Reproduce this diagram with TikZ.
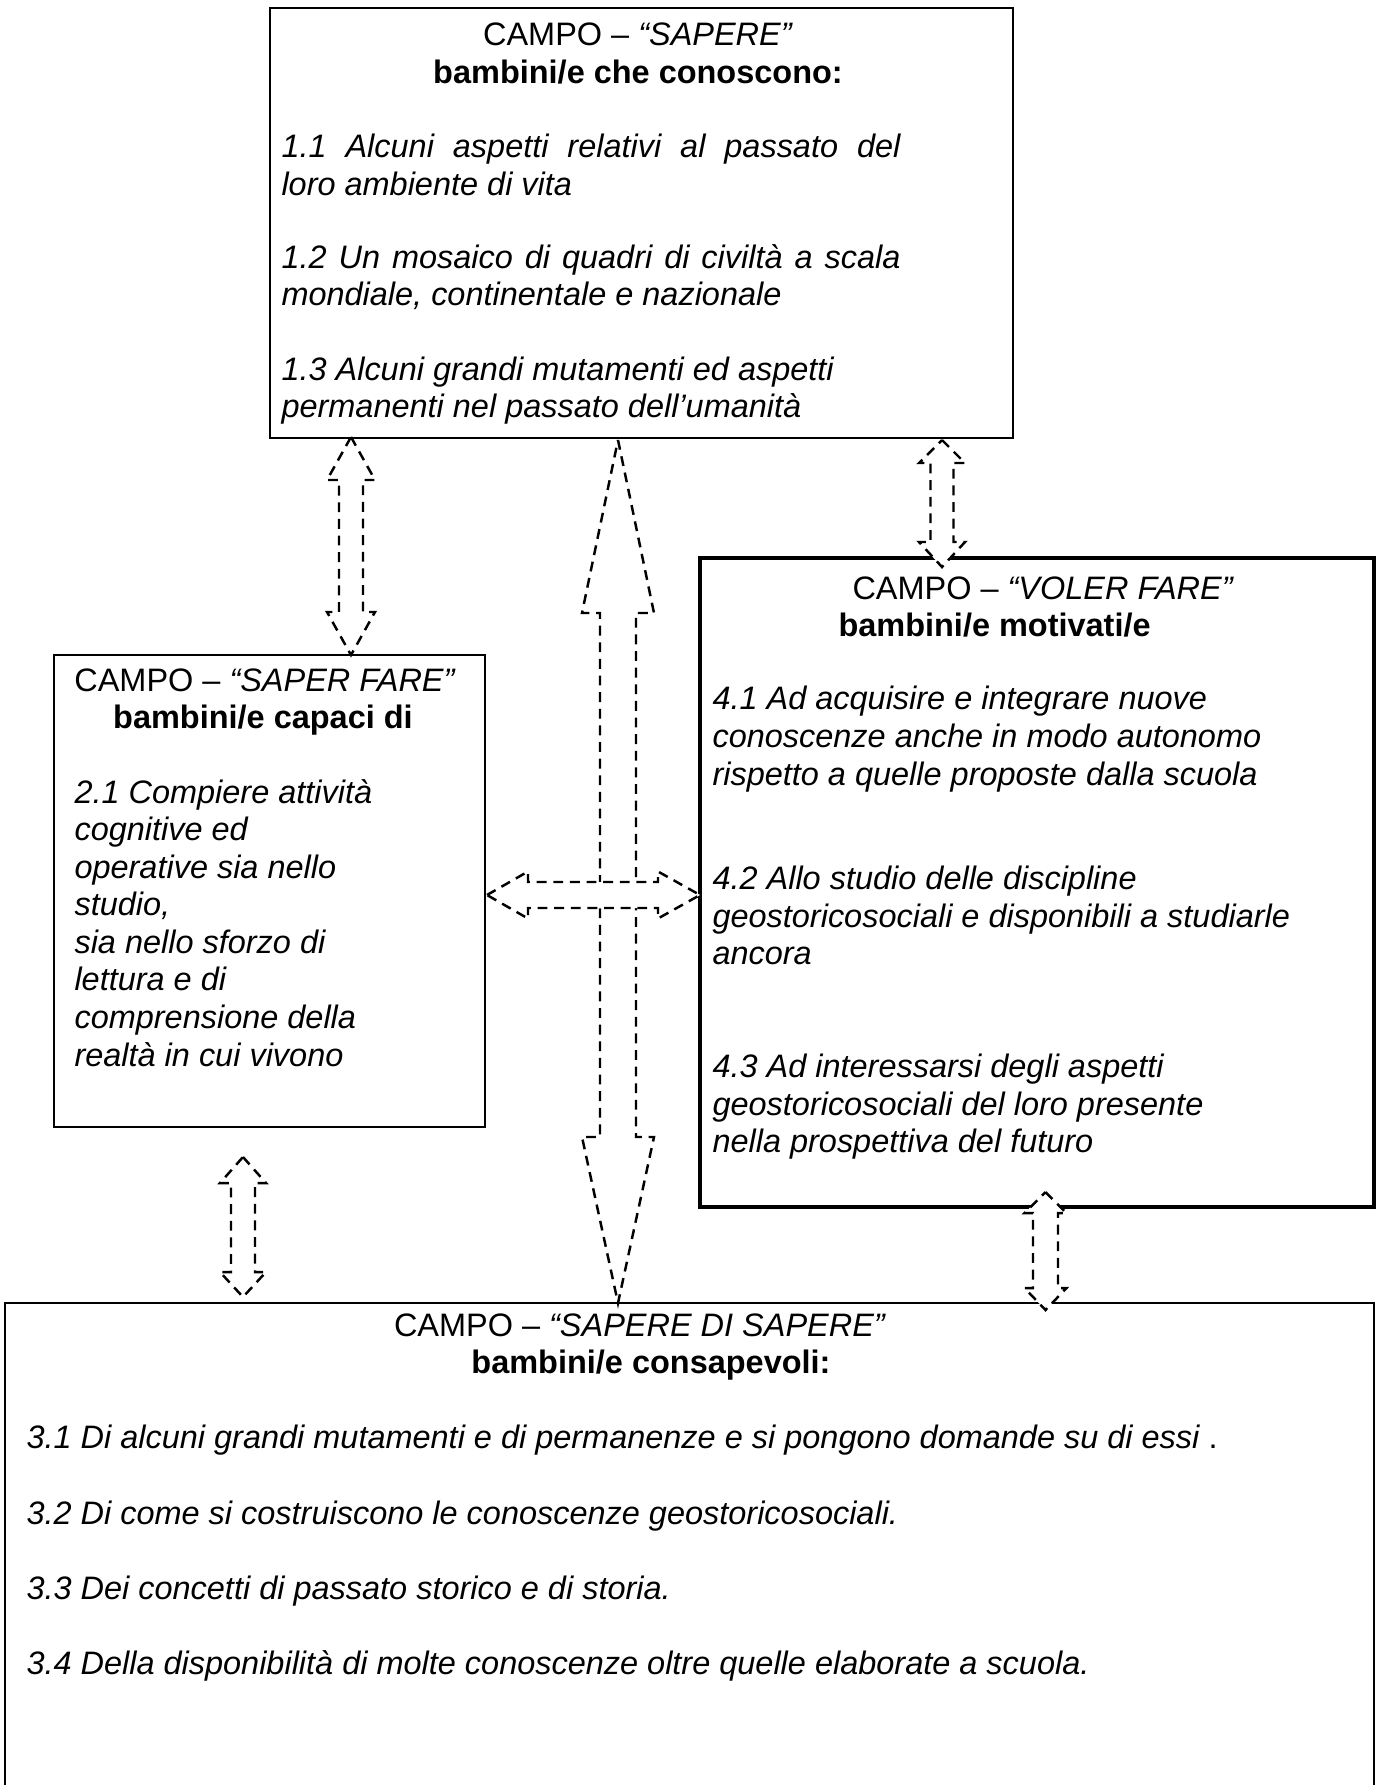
\documentclass[tikz,border=0pt]{standalone}
\usepackage{fontspec}
\setmainfont{Liberation Sans}
\usetikzlibrary{fit}
\newcommand\fs{\fontsize{12.5}{14.4}\selectfont}
\newcommand\dblvarrow[7]{\draw[darr] (#1,#2) -- ({#1+#5},{#2+#6}) -- ({#1+#4},{#2+#6}) -- ({#1+#4},{#3-#7}) -- ({#1+#5},{#3-#7}) -- (#1,#3) -- ({#1-#5},{#3-#7}) -- ({#1-#4},{#3-#7}) -- ({#1-#4},{#2+#6}) -- ({#1-#5},{#2+#6}) -- cycle;}
\newcommand\dblharrow[7]{\draw[darr] (#2,#1) -- ({#2+#6},{#1-#5}) -- ({#2+#6},{#1-#4}) -- ({#3-#7},{#1-#4}) -- ({#3-#7},{#1-#5}) -- (#3,#1) -- ({#3-#7},{#1+#5}) -- ({#3-#7},{#1+#4}) -- ({#2+#6},{#1+#4}) -- ({#2+#6},{#1+#5}) -- cycle;}
\begin{document}
\begin{tikzpicture}[x=0.385pt,y=-0.385pt,
  box/.style={draw,line width=0.8pt,inner sep=0pt},
  thickbox/.style={draw,line width=1.7pt,inner sep=0pt},
  darr/.style={draw,fill=white,line width=0.95pt,dash pattern=on 3.8pt off 2.6pt},
  txt/.style={anchor=base west,inner sep=0pt,font=\fs},
  ctr/.style={anchor=base,inner sep=0pt,font=\fs}]
\useasboundingbox[fill=white] (0,0) rectangle (1379,1785);
% boxes
\node[box,fit={(270,8) (1013,438)}] (sapere) {};
\node[box,fit={(54,655) (485,1127)}] (saperfare) {};
\node[thickbox,fit={(700,558) (1374,1207)}] (volerfare) {};
\node[box,fit={(5,1303) (1374,1800)}] (sds) {};
% arrows
\dblvarrow{618}{440}{1303}{18}{36}{173}{166}
\dblharrow{895}{487}{700}{13}{23.5}{41}{42}
\dblvarrow{351}{437}{655}{12}{24}{43}{43}
\dblvarrow{942}{440}{567}{11.5}{23}{23}{25}
\dblvarrow{243}{1157}{1297}{12}{23}{26}{25}
\dblvarrow{1045.5}{1192}{1310}{12.5}{21}{21}{22}
% texts: SAPERE
\node[ctr] (t1a) at (638,45) {CAMPO – \textit{“SAPERE”}};
\node[ctr] (t1b) at (638,83) {\bfseries bambini/e che conoscono:};
\node[txt] (t1c) at (281,157) {\makebox[238.3pt][s]{\itshape 1.1 Alcuni aspetti relativi al passato del}};
\node[txt] (t1d) at (281,195) {\itshape loro ambiente di vita};
\node[txt] (t1e) at (281,268) {\makebox[238.3pt][s]{\itshape 1.2 Un mosaico di quadri di civiltà a scala}};
\node[txt] (t1f) at (281,305) {\itshape mondiale, continentale e nazionale};
\node[txt] (t1g) at (281,380) {\itshape 1.3 Alcuni grandi mutamenti ed aspetti};
\node[txt] (t1h) at (281,417) {\itshape permanenti nel passato dell’umanità};
% SAPER FARE
\node[ctr] (t2a) at (265,691) {CAMPO – \textit{“SAPER FARE”}};
\node[ctr] (t2b) at (263,728) {\bfseries bambini/e capaci di};
\node[txt] (t2c) at (74,803) {\itshape 2.1 Compiere attività};
\node[txt] (t2d) at (74,840) {\itshape cognitive ed};
\node[txt] (t2e) at (74,878) {\itshape operative sia nello};
\node[txt] (t2f) at (74,915) {\itshape studio,};
\node[txt] (t2g) at (74,953) {\itshape sia nello sforzo di};
\node[txt] (t2h) at (74,990) {\itshape lettura e di};
\node[txt] (t2i) at (74,1028) {\itshape comprensione della};
\node[txt] (t2j) at (74,1066) {\itshape realtà in cui vivono};
% VOLER FARE
\node[txt] (t4a) at (852,599) {CAMPO – \textit{“VOLER FARE”}};
\node[txt] (t4b) at (838,636) {\bfseries bambini/e motivati/e};
\node[txt] (t4c) at (712,709) {\itshape 4.1 Ad acquisire e integrare nuove};
\node[txt] (t4d) at (712,747) {\itshape conoscenze anche in modo autonomo};
\node[txt] (t4e) at (712,785) {\itshape rispetto a quelle proposte dalla scuola};
\node[txt] (t4f) at (712,889) {\itshape 4.2 Allo studio delle discipline};
\node[txt] (t4g) at (712,927) {\itshape geostoricosociali e disponibili a studiarle};
\node[txt] (t4h) at (712,964) {\itshape ancora};
\node[txt] (t4i) at (712,1077) {\itshape 4.3 Ad interessarsi degli aspetti};
\node[txt] (t4j) at (712,1115) {\itshape geostoricosociali del loro presente};
\node[txt] (t4k) at (712,1152) {\itshape nella prospettiva del futuro};
% SAPERE DI SAPERE
\node[ctr] (t3a) at (640,1336) {CAMPO – \textit{“SAPERE DI SAPERE”}};
\node[ctr] (t3b) at (651,1373) {\bfseries bambini/e consapevoli:};
\node[txt] (t3c) at (26,1448) {\itshape 3.1 Di alcuni grandi mutamenti e di permanenze e si pongono domande su di essi \upshape .};
\node[txt] (t3d) at (26,1524) {\itshape 3.2 Di come si costruiscono le conoscenze geostoricosociali.};
\node[txt] (t3e) at (26,1599) {\itshape 3.3 Dei concetti di passato storico e di storia.};
\node[txt] (t3f) at (26,1674) {\itshape 3.4 Della disponibilità di molte conoscenze oltre quelle elaborate a scuola.};
\end{tikzpicture}
\end{document}
